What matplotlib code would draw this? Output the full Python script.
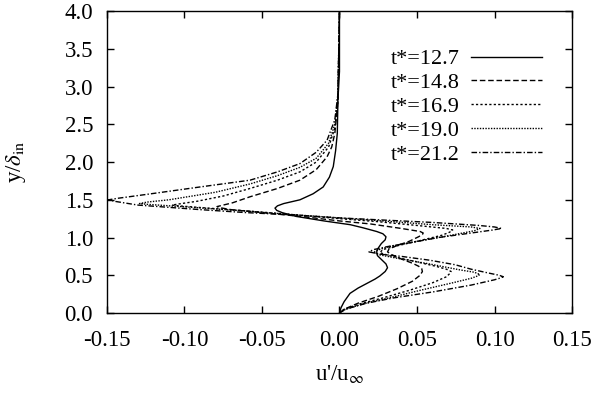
import numpy as np
import matplotlib
matplotlib.use("Agg")
import matplotlib.pyplot as plt

# -------------------------------------------------------
# u'/u_inf profiles at several times t*
# values
# -------------------------------------------------------

labels = ["t*=12.7", "t*=14.8", "t*=16.9", "t*=19.0", "t*=21.2"]

y_127 = [0.0, 0.07, 0.15, 0.26, 0.33, 0.39, 0.45, 0.49, 0.55, 0.60, 0.65, 0.71, 0.76, 0.81, 0.86,
         0.92, 0.97, 1.01, 1.05, 1.08, 1.13, 1.17, 1.22, 1.28, 1.33, 1.36, 1.39, 1.42, 1.45, 1.50,
         1.58, 1.67, 1.80, 1.94, 2.15, 2.38, 2.82, 3.2, 4.0]
u_127 = [0.0, 0.001, 0.003, 0.0068, 0.012, 0.0175, 0.023, 0.026, 0.0295, 0.031, 0.030, 0.027, 0.0245, 0.024, 0.025,
         0.027, 0.0295, 0.030, 0.028, 0.024, 0.015, 0.007, -0.010, -0.028, -0.037, -0.0405, -0.0416, -0.040, -0.036, -0.0255,
         -0.017, -0.0105, -0.0065, -0.004, -0.0025, -0.0014, -0.001, 0.0, 0.0]

y_148 = [0.0, 0.05, 0.13, 0.22, 0.32, 0.42, 0.50, 0.55, 0.59, 0.62, 0.66, 0.73, 0.78, 0.81, 0.85, 0.90,
         0.95, 1.01, 1.04, 1.06, 1.08, 1.12, 1.18, 1.22, 1.28, 1.33, 1.37, 1.395, 1.41, 1.43, 1.46, 1.54,
         1.65, 1.76, 1.90, 2.07, 2.2, 2.38, 2.8, 4.0]
u_148 = [0.0, 0.003, 0.012, 0.025, 0.037, 0.047, 0.052, 0.0535, 0.053, 0.051, 0.047, 0.038, 0.033, 0.031, 0.032, 0.038,
         0.045, 0.051, 0.0535, 0.054, 0.052, 0.040, 0.020, 0.0, -0.025, -0.050, -0.070, -0.077, -0.079, -0.075, -0.069, -0.0577,
         -0.040, -0.0255, -0.015, -0.008, -0.005, -0.003, -0.001, 0.0]

y_169 = [0.0, 0.05, 0.12, 0.2, 0.3, 0.4, 0.48, 0.52, 0.55, 0.58, 0.62, 0.7, 0.76, 0.80, 0.84, 0.88,
         0.96, 1.03, 1.07, 1.10, 1.12, 1.16, 1.21, 1.25, 1.30, 1.35, 1.39, 1.42, 1.43, 1.45, 1.48,
         1.55, 1.65, 1.76, 1.87, 2.0, 2.2, 2.45, 2.8, 4.0]
u_169 = [0.0, 0.003, 0.013, 0.028, 0.045, 0.060, 0.069, 0.071, 0.072, 0.069, 0.062, 0.045, 0.032, 0.026, 0.028, 0.035,
         0.052, 0.066, 0.071, 0.073, 0.069, 0.050, 0.025, 0.0, -0.028, -0.058, -0.085, -0.104, -0.108, -0.102, -0.092,
         -0.075, -0.0577, -0.040, -0.0255, -0.015, -0.007, -0.003, -0.001, 0.0]

y_190 = [0.0, 0.05, 0.12, 0.2, 0.3, 0.4, 0.46, 0.49, 0.51, 0.54, 0.57, 0.65, 0.73, 0.77, 0.80, 0.83, 0.88,
         0.95, 1.03, 1.09, 1.12, 1.14, 1.17, 1.22, 1.26, 1.30, 1.35, 1.40, 1.44, 1.45, 1.47, 1.50, 1.60,
         1.71, 1.82, 1.93, 2.05, 2.25, 2.5, 2.9, 4.0]
u_190 = [0.0, 0.004, 0.015, 0.032, 0.052, 0.073, 0.085, 0.089, 0.0906, 0.087, 0.078, 0.058, 0.036, 0.026, 0.022, 0.024, 0.032,
         0.050, 0.072, 0.087, 0.0906, 0.085, 0.060, 0.028, 0.0, -0.028, -0.060, -0.095, -0.124, -0.129, -0.124, -0.110, -0.080,
         -0.0577, -0.040, -0.0255, -0.015, -0.007, -0.003, -0.001, 0.0]

y_212 = [0.0, 0.05, 0.13, 0.2, 0.28, 0.37, 0.44, 0.465, 0.48, 0.50, 0.53, 0.58, 0.64, 0.70, 0.75, 0.78, 0.81,
         0.84, 0.88, 0.94, 1.00, 1.06, 1.10, 1.12, 1.14, 1.16, 1.20, 1.23, 1.26, 1.30, 1.33, 1.37, 1.43,
         1.48, 1.50, 1.52, 1.57, 1.67, 1.76, 1.87, 1.98, 2.13, 2.29, 2.56, 2.9, 4.0]
u_212 = [0.0, 0.004, 0.0175, 0.035, 0.0605, 0.085, 0.100, 0.104, 0.1057, 0.103, 0.096, 0.085, 0.0745, 0.058, 0.040, 0.026, 0.019,
         0.022, 0.031, 0.048, 0.064, 0.085, 0.099, 0.1046, 0.100, 0.090, 0.060, 0.030, 0.0, -0.030, -0.060, -0.090, -0.130,
         -0.145, -0.149, -0.143, -0.125, -0.090, -0.0577, -0.040, -0.0255, -0.015, -0.008, -0.003, -0.001, 0.0]

profiles = [(u_127, y_127), (u_148, y_148), (u_169, y_169), (u_190, y_190), (u_212, y_212)]
styles = ["-", (0, (4, 2)), (0, (1.6, 1.6)), (0, (1, 1)), (0, (4, 1.5, 1, 1.5))]

plt.rcParams["font.family"] = ["Liberation Serif", "DejaVu Serif"]
plt.rcParams["mathtext.fontset"] = "stix"

fig = plt.figure(figsize=(5.94, 3.93), dpi=100)
ax = fig.add_axes([0.180, 0.2036, 0.783, 0.768])

for (u, y), ls, lab in zip(profiles, styles, labels):
    ax.plot(u, y, color="black", linestyle=ls, linewidth=1.0, label=lab)

ax.set_xlim(-0.15, 0.15)
ax.set_ylim(0.0, 4.0)
ax.set_xticks(np.arange(-0.15, 0.151, 0.05))
ax.set_xticklabels(["-0.15", "-0.10", "-0.05", "0.00", "0.05", "0.10", "0.15"])
ax.set_yticks(np.arange(0, 4.01, 0.5))
ax.set_yticklabels([f"{v:.1f}" for v in np.arange(0, 4.01, 0.5)])
ax.tick_params(direction="in", top=True, right=True, length=5, width=1,
               labelsize=16.5)
ax.tick_params(axis="x", pad=12)
ax.tick_params(axis="y", pad=10)
for sp in ax.spines.values():
    sp.set_linewidth(1.0)

ax.set_xlabel(r"u'/u$_\infty$", fontsize=16.5, labelpad=9)
ax.set_ylabel(r"y/$\delta_{\mathrm{in}}$", fontsize=16.5, labelpad=26)

ax.legend(loc="upper right", bbox_to_anchor=(0.955, 0.905), frameon=False,
          markerfirst=False, handlelength=3.2, handletextpad=0.5,
          labelspacing=0.15, fontsize=16, borderaxespad=0.0)

fig.savefig("out.png", dpi=100)
